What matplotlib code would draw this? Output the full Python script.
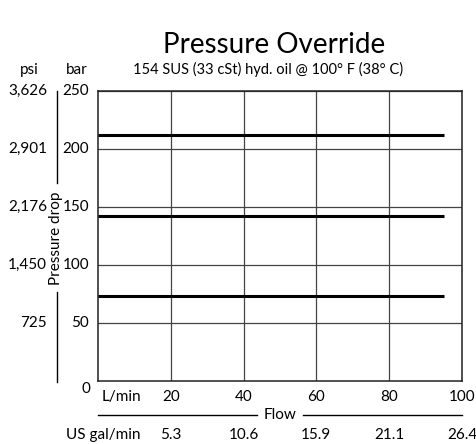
import numpy as np
import matplotlib
matplotlib.use('Agg')
import matplotlib.pyplot as plt
from matplotlib.transforms import blended_transform_factory

plt.rcParams['font.family'] = ['Lato', 'DejaVu Sans']

# data
flow_lpm = [0, 95]
pressure_curves = [[212, 212], [142, 142], [73, 73]]

bar_ticks = [50, 100, 150, 200, 250]
psi_labels = ['725', '1,450', '2,176', '2,901', '3,626']
lpm_ticks = [20, 40, 60, 80, 100]
gpm_labels = ['5.3', '10.6', '15.9', '21.1', '26.4']

W, H = 477, 444
FS = 11
fig = plt.figure(figsize=(W / 100, H / 100), dpi=100)
ax = fig.add_axes([98 / W, (H - 381) / H, (462 - 98) / W, (381 - 91) / H])

for y in pressure_curves:
    ax.plot(flow_lpm, y, color='black', linewidth=2.2, solid_capstyle='butt', zorder=3)

ax.set_xlim(0, 100)
ax.set_ylim(0, 250)
ax.set_xticks(lpm_ticks)
ax.set_yticks(bar_ticks)
ax.grid(True, color='#444444', linewidth=0.9)
for s in ax.spines.values():
    s.set_color('#222222')
    s.set_linewidth(1.1)
ax.tick_params(length=0)
ax.set_xticklabels([])
ax.set_yticklabels([])

# left labels: bar and psi
trans_y = blended_transform_factory(fig.transFigure, ax.transData)
for b, p in zip(bar_ticks, psi_labels):
    ax.text(89 / W, b, str(b), transform=trans_y, ha='right', va='center', fontsize=FS)
    ax.text(47 / W, b, p, transform=trans_y, ha='right', va='center', fontsize=FS)
fig.text(90 / W, 1 - 389 / H, '0', ha='right', va='center', fontsize=FS)
fig.text(29 / W, 1 - 70 / H, 'psi', ha='center', va='center', fontsize=FS)
fig.text(77 / W, 1 - 70 / H, 'bar', ha='center', va='center', fontsize=FS)

# pressure drop label with line
fig.add_artist(plt.Line2D([57 / W, 57 / W], [1 - 91 / H, 1 - 183 / H], color='black', linewidth=1))
fig.add_artist(plt.Line2D([57 / W, 57 / W], [1 - 292 / H, 1 - 382 / H], color='black', linewidth=1))
fig.text(56 / W, 1 - 238 / H, 'Pressure drop', rotation=90, ha='center', va='center', fontsize=FS)

# bottom labels
trans_x = blended_transform_factory(ax.transData, fig.transFigure)
for t, g in zip(lpm_ticks, gpm_labels):
    ax.text(t, 1 - 397 / H, str(t), transform=trans_x, ha='center', va='center', fontsize=FS)
    ax.text(t, 1 - 435 / H, g, transform=trans_x, ha='center', va='center', fontsize=FS)
fig.text(102 / W, 1 - 397 / H, 'L/min', ha='left', va='center', fontsize=FS)
fig.text(140 / W, 1 - 435 / H, 'US gal/min', ha='right', va='center', fontsize=FS)
fig.add_artist(plt.Line2D([98 / W, 257 / W], [1 - 415 / H, 1 - 415 / H], color='black', linewidth=1))
fig.add_artist(plt.Line2D([303 / W, 462 / W], [1 - 415 / H, 1 - 415 / H], color='black', linewidth=1))
fig.text(280 / W, 1 - 415 / H, 'Flow', ha='center', va='center', fontsize=FS)

fig.text(274 / W, 1 - 45 / H, 'Pressure Override', ha='center', va='center', fontsize=20)
fig.text(268 / W, 1 - 69 / H, '154 SUS (33 cSt) hyd. oil @ 100\u00b0 F (38\u00b0 C)',
         ha='center', va='center', fontsize=10.5)

fig.savefig('out.png', dpi=100)
